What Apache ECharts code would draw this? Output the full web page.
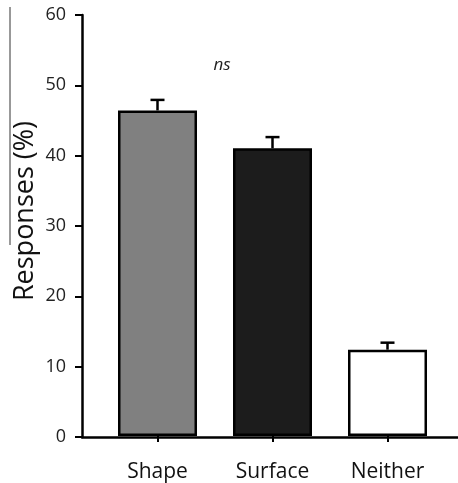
<!DOCTYPE html>
<html>
<head>
<meta charset="utf-8">
<script src="https://cdn.jsdelivr.net/npm/echarts@6/dist/echarts.min.js"></script>
<style>html,body{margin:0;padding:0;background:#fff}#c{width:458px;height:483px}</style>
</head>
<body>
<div id="c"></div>
<script>
const categories = ['Shape', 'Surface', 'Neither'];
const values = [46.4, 41.0, 12.3];
const errors = [1.5, 1.6, 1.0];
const barColors = ['#808080', '#1c1c1c', '#ffffff'];
const yTicks = [0, 10, 20, 30, 40, 50, 60];
const yTitle = 'Responses (%)';
const sigLabel = 'ns';

const chart = echarts.init(document.getElementById('c'));
const font = '"Open Sans", "Noto Sans", sans-serif';

chart.setOption({
  animation: false,
  backgroundColor: '#fff',
  grid: [
    { left: 82, right: 0, top: 15, bottom: 46 },
    { left: 100, width: 345, top: 15, bottom: 46 }
  ],
  xAxis: [
    { gridIndex: 0, type: 'value', min: 0, max: 1,
      axisLine: { show: true, lineStyle: { color: '#000', width: 2.5 } },
      axisTick: { show: false }, axisLabel: { show: false }, splitLine: { show: false } },
    { gridIndex: 1, type: 'category', data: categories,
      axisLine: { show: false },
      axisTick: { show: true, alignWithLabel: true, length: 6, lineStyle: { color: '#000', width: 2 } },
      axisLabel: { color: '#111', fontSize: 21, fontFamily: font, margin: 26 } }
  ],
  yAxis: [
    { gridIndex: 0, type: 'value', min: yTicks[0], max: yTicks[yTicks.length - 1], interval: 10,
      axisLine: { show: true, lineStyle: { color: '#000', width: 2.5 } },
      axisTick: { show: true, length: 7, lineStyle: { color: '#000', width: 2 } },
      axisLabel: { color: '#222', fontSize: 18, fontFamily: font, margin: 16 },
      splitLine: { show: false } },
    { gridIndex: 1, type: 'value', min: yTicks[0], max: yTicks[yTicks.length - 1], show: false }
  ],
  graphic: [
    { type: 'line', shape: { x1: 10, y1: 7, x2: 10, y2: 245 }, style: { stroke: '#333', lineWidth: 1 } },
    { type: 'text', x: 25, y: 211, rotation: Math.PI / 2,
      style: { text: yTitle, font: '27px ' + font, fill: '#111', textAlign: 'center', textVerticalAlign: 'middle' } },
    { type: 'text', x: 222, y: 65, style: { text: sigLabel, font: 'italic 17px ' + font, fill: '#222', textAlign: 'center', textVerticalAlign: 'middle' } }
  ],
  series: [
    { type: 'bar', xAxisIndex: 1, yAxisIndex: 1, barWidth: 79,
      data: values.map((v, i) => ({ value: v, itemStyle: { color: barColors[i] } })),
      itemStyle: { borderColor: '#000', borderWidth: 2.5 } },
    { type: 'custom', xAxisIndex: 1, yAxisIndex: 1, z: 1,
      data: values.map((v, i) => [i, v, v + errors[i]]),
      renderItem: function (params, api) {
        const top = api.coord([api.value(0), api.value(1)]);
        const hi = api.coord([api.value(0), api.value(2)]);
        return { type: 'group', children: [
          { type: 'line', shape: { x1: top[0], y1: top[1], x2: hi[0], y2: hi[1] }, style: { stroke: '#000', lineWidth: 2.5 } },
          { type: 'line', shape: { x1: hi[0] - 7, y1: hi[1], x2: hi[0] + 7, y2: hi[1] }, style: { stroke: '#000', lineWidth: 2.5 } }
        ] };
      } }
  ]
});
</script>
</body>
</html>
